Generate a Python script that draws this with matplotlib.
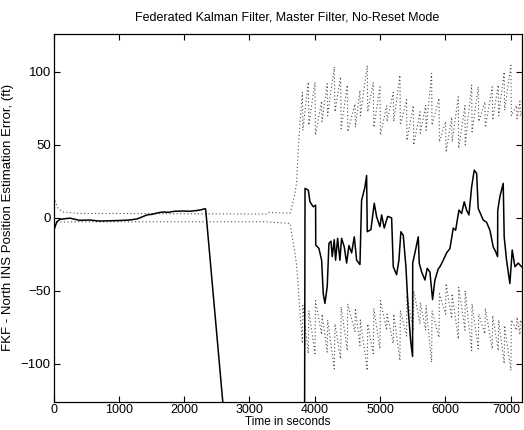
"""
Federated Kalman Filter - master filter, no-reset mode
"""

import numpy as np
import matplotlib
matplotlib.use('Agg')
import matplotlib.pyplot as plt
from matplotlib.transforms import ScaledTranslation

plt.rcParams['font.family'] = ['Liberation Sans', 'DejaVu Sans']

# Becslési hiba (folytonos vonal): idő (s), hiba (ft)
err_t = [0, 10, 50, 100, 250, 400, 550, 710, 850, 1020, 1150, 1275, 1350, 1430,
         1520, 1600, 1680, 1760, 1850, 1990, 2080, 2190, 2260, 2320, 2330,
         2620, 3845, 3852, 3902, 3928, 3978, 4014, 4016, 4065, 4106, 4131,
         4157, 4192, 4218, 4249, 4269, 4299, 4320, 4351, 4386, 4412, 4453,
         4489, 4524, 4566, 4606, 4642, 4693, 4718, 4769, 4795, 4805, 4861,
         4912, 4948, 4999, 5025, 5065, 5117, 5178, 5203, 5254, 5290, 5320,
         5356, 5397, 5432, 5469, 5499, 5501, 5535, 5586, 5601, 5637, 5688,
         5723, 5764, 5805, 5841, 5892, 5918, 5969, 6020, 6071, 6122, 6158,
         6209, 6250, 6290, 6326, 6362, 6403, 6443, 6480, 6504, 6581, 6632,
         6683, 6734, 6770, 6801, 6803, 6836, 6887, 6902, 6938, 6989, 7025,
         7066, 7117, 7168]
err_v = [-5, -8, -2.7, -1, -0.2, -1.7, -1.5, -2.2, -2.0, -1.8, -1.5, -0.8, 0.5,
         2, 2.5, 3.5, 4, 3.8, 4.5, 4.7, 4.5, 5, 5.5, 6.3, 6,
         -140, -140, 20.2, 19, 11, 7.6, 8.7, -18.6, -21, -29, -52,
         -58.6, -47, -17.5, -16, -26.6, -15, -29, -14, -29, -14, -20,
         -31, -19, -24, -13, -29, -32, 12, 21, 29, -9.5, -8,
         10, 0.8, -6, 2, -7, 1, 0, -33.5, -39, -29, -9.5,
         -12, -33.5, -63, -84, -95, -31, -24, -13, -31, -37, -42.6,
         -34.6, -37, -56, -42.6, -35, -33.5, -29, -24, -21, -7, -8.5,
         5.3, 3, 11, 5.3, 2, 21, 32.7, 30.5, 6.5, -1.5, -3,
         -8.4, -20, -23, -26.6, 5, 14.5, 23.6, -13, -29, -45, -22,
         -33.5, -31, -33.5]

# Kovariancia-határok a szűrő inicializálása után (pontozott vonalak)
early_t = [0, 20, 70, 150, 400, 1000, 2000, 3265, 3300, 3622, 3663, 3698, 3724, 3750]
early_hi = [10, 12, 6.5, 4, 3, 3, 2.8, 2.6, 3.7, 3.2, 10, 17, 24.7, 48.7]
early_lo = [-4, -3.7, -3, -2.8, -2.7, -2.7, -2.7, -2.7, -2.9, -3.8, -15, -24, -33, -48.7]

# Fűrészfog alakú szórás a 3750 s utáni szakaszon (felső és tükrözött alsó határ)
sig_t = [3775, 3812, 3818, 3902, 3910, 4004, 4012, 4106, 4112, 4192, 4198, 4300,
         4310, 4397, 4405, 4499, 4507, 4616, 4622, 4693, 4700, 4805, 4812, 4897,
         4905, 4999, 5007, 5102, 5108, 5203, 5210, 5305, 5312, 5407, 5412, 5510,
         5517, 5612, 5618, 5699, 5705, 5790, 5797, 5903, 5910, 6005, 6012, 6098,
         6104, 6199, 6205, 6301, 6305, 6403, 6410, 6505, 6512, 6607, 6613, 6719,
         6725, 6811, 6817, 6902, 6908, 7005, 7012, 7092, 7098, 7143, 7150, 7170]
sig_v = [65, 86, 60, 93, 63.5, 93, 56.7, 80, 66, 92, 70, 103.5,
         72.7, 96.6, 61, 91, 59, 78, 62, 87.5, 70, 104.6, 72.7, 93,
         62, 89.8, 56.7, 77, 66, 86, 66, 97.8, 63.5, 81, 53, 77,
         50, 72.7, 58, 77, 60, 99, 63.5, 82, 52, 66, 45, 69,
         52, 83, 47.6, 77, 50, 91, 59, 89.8, 66, 79.5, 62, 89.8,
         67, 91, 70, 100, 73.8, 104.6, 70, 77, 68, 80, 70, 72]

upper_t = np.array(early_t + sig_t)
upper_v = np.array(early_hi + sig_v)
lower_v = np.array(early_lo + [-v for v in sig_v])

font = 9
fig = plt.figure(figsize=(5.24, 4.30), dpi=100)
ax = fig.add_axes([0.1021, 0.0658, 0.8935, 0.8551])

dots = (0, (1, 2.2))
ax.plot(upper_t, upper_v, linestyle=dots, color='0.3', lw=0.8)
ax.plot(upper_t, lower_v, linestyle=dots, color='0.3', lw=0.8)
ax.plot(err_t, err_v, '-', color='black', lw=1.1)

ax.set_xlim(0, 7170)
ax.set_ylim(-126, 126)
ax.set_xticks(np.arange(0, 7001, 1000))
ax.set_yticks([-100, -50, 0, 50, 100])

ax.tick_params(direction='in', top=True, right=True, labelsize=font + 0.5,
               length=4, width=0.8)
ax.tick_params(axis='x', pad=2, labelsize=font)
ax.tick_params(axis='y', pad=2)
for s in ax.spines.values():
    s.set_linewidth(0.9)

# az utolsó x felirat kicsit balra, hogy ne lógjon ki
last = ax.get_xticklabels()[-1]
last.set_transform(last.get_transform()
                   + ScaledTranslation(-3 / 72, 0, fig.dpi_scale_trans))

ax.set_xlabel('Time in seconds', fontsize=font - 0.5, labelpad=0)
ax.set_ylabel('FKF - North INS Position Estimation Error, (ft)',
              fontsize=font + 0.5, labelpad=5)
ax.set_title('Federated Kalman Filter, Master Filter, No-Reset Mode',
             fontsize=font, pad=10)

plt.savefig('out.png', dpi=100)
